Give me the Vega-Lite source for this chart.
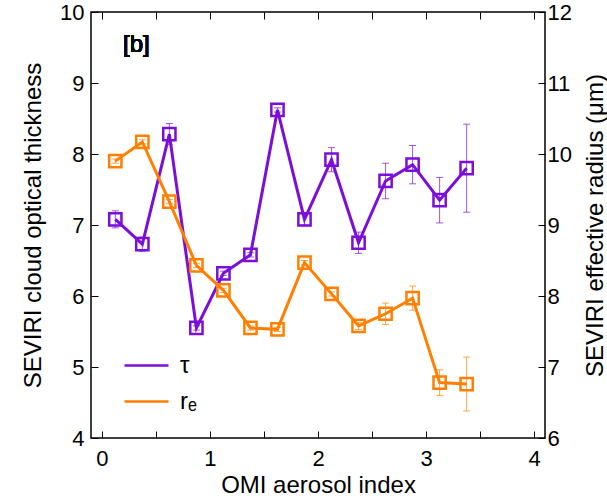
{
  "$schema": "https://vega.github.io/schema/vega-lite/v6.json",
  "width": 454,
  "height": 426,
  "autosize": {"type": "none"},
  "padding": {"left": 91, "top": 12, "right": 62, "bottom": 61},
  "config": {
    "font": "Liberation Sans",
    "view": {"stroke": "black", "strokeWidth": 1.5},
    "axis": {
      "domain": false,
      "grid": false,
      "ticks": true,
      "tickSize": -7,
      "tickColor": "black",
      "tickWidth": 1,
      "labelFont": "Liberation Sans",
      "labelFontSize": 22,
      "labelColor": "black",
      "titleFont": "Liberation Sans",
      "titleFontSize": 24,
      "titleFontWeight": "normal",
      "titleColor": "black"
    }
  },
  "datasets": {
    "pts": [
      {"x": 0.125, "series": "τ", "value": 7.08, "lo": 6.96, "hi": 7.20},
      {"x": 0.375, "series": "τ", "value": 6.73, "lo": 6.63, "hi": 6.83},
      {"x": 0.625, "series": "τ", "value": 8.28, "lo": 8.13, "hi": 8.43},
      {"x": 0.875, "series": "τ", "value": 5.55, "lo": 5.52, "hi": 5.58},
      {"x": 1.125, "series": "τ", "value": 6.32, "lo": 6.29, "hi": 6.35},
      {"x": 1.375, "series": "τ", "value": 6.58, "lo": 6.55, "hi": 6.61},
      {"x": 1.625, "series": "τ", "value": 8.62, "lo": 8.59, "hi": 8.65},
      {"x": 1.875, "series": "τ", "value": 7.08, "lo": 7.00, "hi": 7.16},
      {"x": 2.125, "series": "τ", "value": 7.92, "lo": 7.75, "hi": 8.09},
      {"x": 2.375, "series": "τ", "value": 6.75, "lo": 6.60, "hi": 6.90},
      {"x": 2.625, "series": "τ", "value": 7.62, "lo": 7.37, "hi": 7.87},
      {"x": 2.875, "series": "τ", "value": 7.85, "lo": 7.58, "hi": 8.12},
      {"x": 3.125, "series": "τ", "value": 7.35, "lo": 7.03, "hi": 7.67},
      {"x": 3.375, "series": "τ", "value": 7.80, "lo": 7.18, "hi": 8.42},
      {"x": 0.125, "series": "rₑ", "value": 9.90, "lo": 9.87, "hi": 9.93},
      {"x": 0.375, "series": "rₑ", "value": 10.17, "lo": 10.14, "hi": 10.20},
      {"x": 0.625, "series": "rₑ", "value": 9.33, "lo": 9.30, "hi": 9.36},
      {"x": 0.875, "series": "rₑ", "value": 8.43, "lo": 8.40, "hi": 8.46},
      {"x": 1.125, "series": "rₑ", "value": 8.08, "lo": 8.05, "hi": 8.11},
      {"x": 1.375, "series": "rₑ", "value": 7.55, "lo": 7.52, "hi": 7.58},
      {"x": 1.625, "series": "rₑ", "value": 7.53, "lo": 7.50, "hi": 7.56},
      {"x": 1.875, "series": "rₑ", "value": 8.47, "lo": 8.44, "hi": 8.50},
      {"x": 2.125, "series": "rₑ", "value": 8.03, "lo": 8.00, "hi": 8.06},
      {"x": 2.375, "series": "rₑ", "value": 7.58, "lo": 7.53, "hi": 7.63},
      {"x": 2.625, "series": "rₑ", "value": 7.75, "lo": 7.60, "hi": 7.90},
      {"x": 2.875, "series": "rₑ", "value": 7.97, "lo": 7.80, "hi": 8.14},
      {"x": 3.125, "series": "rₑ", "value": 6.78, "lo": 6.60, "hi": 6.96},
      {"x": 3.375, "series": "rₑ", "value": 6.76, "lo": 6.38, "hi": 7.14}
    ]
  },
  "layer": [
    {
      "data": {"name": "pts"},
      "transform": [{"filter": "datum.series === 'τ'"}],
      "encoding": {
        "x": {
          "field": "x", "type": "quantitative",
          "scale": {"domain": [-0.1, 4.1], "nice": false, "zero": false},
          "axis": {"title": "OMI aerosol index", "values": [0, 0.5, 1, 1.5, 2, 2.5, 3, 3.5, 4],
                   "labelExpr": "datum.value % 1 === 0 ? format(datum.value, 'd') : ''", "labelPadding": 17, "titlePadding": 4}
        }
      },
      "layer": [
        {
          "mark": {"type": "rule", "strokeWidth": 1, "opacity": 0.7},
          "encoding": {
            "y": {"field": "lo", "type": "quantitative"},
            "y2": {"field": "hi"},
            "color": {"value": "#7b0fd8"}
          }
        },
        {
          "mark": {"type": "tick", "orient": "horizontal", "size": 7, "thickness": 1, "opacity": 0.7},
          "encoding": {"y": {"field": "lo", "type": "quantitative"}, "color": {"value": "#7b0fd8"}}
        },
        {
          "mark": {"type": "tick", "orient": "horizontal", "size": 7, "thickness": 1, "opacity": 0.7},
          "encoding": {"y": {"field": "hi", "type": "quantitative"}, "color": {"value": "#7b0fd8"}}
        },
        {
          "mark": {"type": "line", "strokeWidth": 3},
          "encoding": {
            "y": {
              "field": "value", "type": "quantitative",
              "scale": {"domain": [4, 10], "nice": false, "zero": false},
              "axis": {"title": "SEVIRI cloud optical thickness", "orient": "left",
                       "values": [4, 4.5, 5, 5.5, 6, 6.5, 7, 7.5, 8, 8.5, 9, 9.5, 10],
                       "labelExpr": "datum.value % 1 === 0 ? format(datum.value, 'd') : ''", "labelPadding": 14, "titlePadding": 14}
            },
            "color": {
              "field": "series", "type": "nominal",
              "scale": {"domain": ["τ", "rₑ"], "range": ["#7b0fd8", "#ff8000"]},
              "legend": {
                "title": null, "orient": "none", "legendX": 32, "legendY": 330,
                "symbolType": "stroke", "symbolSize": 1936, "symbolStrokeWidth": 2.5,
                "labelFontSize": 24, "labelFont": "Liberation Sans", "labelColor": "black",
                "rowPadding": -8, "labelOffset": 10
              }
            }
          }
        },
        {
          "mark": {"type": "point", "shape": "square", "filled": false, "size": 150, "strokeWidth": 2.5, "opacity": 1},
          "encoding": {"y": {"field": "value", "type": "quantitative"}, "color": {"value": "#7b0fd8"}}
        },
        {
          "mark": {"type": "text", "fontSize": 24, "fontWeight": "normal", "font": "Liberation Sans", "color": "black"},
          "encoding": {"x": {"datum": 0.32}, "y": {"datum": 9.53}, "text": {"value": "[b]"}}
        }
      ]
    },
    {
      "data": {"name": "pts"},
      "transform": [{"filter": "datum.series === 'rₑ'"}],
      "encoding": {
        "x": {
          "field": "x", "type": "quantitative",
          "axis": {"orient": "top", "title": null, "labels": false, "values": [0, 0.5, 1, 1.5, 2, 2.5, 3, 3.5, 4]}
        }
      },
      "layer": [
        {
          "mark": {"type": "rule", "strokeWidth": 1, "opacity": 0.7},
          "encoding": {
            "y": {"field": "lo", "type": "quantitative"},
            "y2": {"field": "hi"},
            "color": {"value": "#ff8000"}
          }
        },
        {
          "mark": {"type": "tick", "orient": "horizontal", "size": 7, "thickness": 1, "opacity": 0.7},
          "encoding": {"y": {"field": "lo", "type": "quantitative"}, "color": {"value": "#ff8000"}}
        },
        {
          "mark": {"type": "tick", "orient": "horizontal", "size": 7, "thickness": 1, "opacity": 0.7},
          "encoding": {"y": {"field": "hi", "type": "quantitative"}, "color": {"value": "#ff8000"}}
        },
        {
          "mark": {"type": "line", "strokeWidth": 3},
          "encoding": {
            "y": {
              "field": "value", "type": "quantitative",
              "scale": {"domain": [6, 12], "nice": false, "zero": false},
              "axis": {"title": "SEVIRI effective radius (μm)", "orient": "right",
                       "titleAngle": 270, "titleBaseline": "top",
                       "values": [6, 6.5, 7, 7.5, 8, 8.5, 9, 9.5, 10, 10.5, 11, 11.5, 12],
                       "labelExpr": "datum.value % 1 === 0 ? format(datum.value, 'd') : ''", "labelPadding": 9, "titlePadding": 12}
            },
            "color": {"field": "series", "type": "nominal"}
          }
        },
        {
          "mark": {"type": "point", "shape": "square", "filled": false, "size": 150, "strokeWidth": 2.5, "opacity": 1},
          "encoding": {"y": {"field": "value", "type": "quantitative"}, "color": {"value": "#ff8000"}}
        }
      ]
    }
  ],
  "resolve": {"scale": {"y": "independent"}, "axis": {"x": "independent", "y": "independent"}}
}
